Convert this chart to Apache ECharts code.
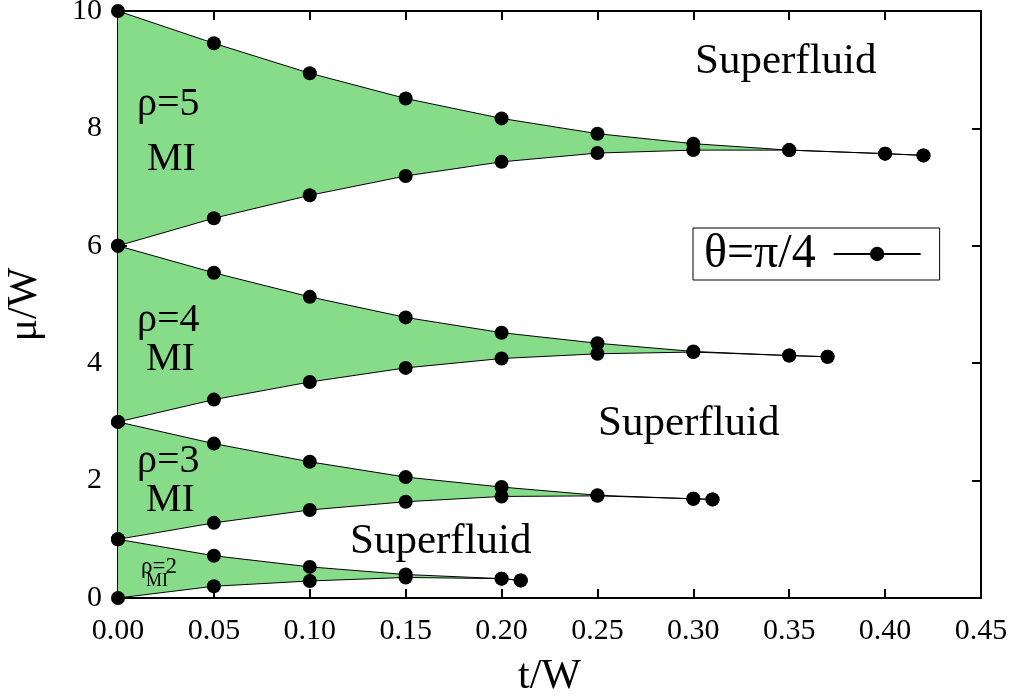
<!DOCTYPE html>
<html>
<head>
<meta charset="utf-8">
<title>Phase diagram</title>
<script src="https://cdn.jsdelivr.net/npm/echarts@6/dist/echarts.min.js"></script>
<style>
  html, body { margin: 0; padding: 0; background: #fff; }
  #chart { width: 1016px; height: 700px; }
</style>
</head>
<body>
<div id="chart"></div>
<script>
// t/W positions of each lobe and the upper / lower boundary of the MI region
var t5 = [0, 0.05, 0.10, 0.15, 0.20, 0.25, 0.30, 0.35, 0.40, 0.42];
var upper5 = [10, 9.45, 8.94, 8.51, 8.17, 7.91, 7.74, 7.63, 7.57, 7.54];
var lower5 = [6, 6.47, 6.86, 7.19, 7.43, 7.58, 7.63, 7.63, 7.57, 7.54];

var t4 = [0, 0.05, 0.10, 0.15, 0.20, 0.25, 0.30, 0.35, 0.37];
var upper4 = [6, 5.54, 5.13, 4.78, 4.52, 4.34, 4.20, 4.13, 4.11];
var lower4 = [3, 3.38, 3.68, 3.92, 4.08, 4.16, 4.19, 4.13, 4.11];

var t3 = [0, 0.05, 0.10, 0.15, 0.20, 0.25, 0.30, 0.31];
var upper3 = [3, 2.63, 2.32, 2.06, 1.89, 1.75, 1.69, 1.68];
var lower3 = [1, 1.28, 1.50, 1.64, 1.73, 1.74, 1.69, 1.68];

var t2 = [0, 0.05, 0.10, 0.15, 0.20, 0.21];
var upper2 = [1, 0.72, 0.53, 0.40, 0.33, 0.30];
var lower2 = [0, 0.20, 0.29, 0.35, 0.33, 0.30];

var xTicks = [0, 0.05, 0.10, 0.15, 0.20, 0.25, 0.30, 0.35, 0.40, 0.45];
var yTicks = [0, 2, 4, 6, 8, 10];

var seriesName = 'θ=π/4';
var fillColor = '#86dc88';
var font = '"Liberation Serif", "DejaVu Serif", serif';

var lobes = [
	{ t: t5, up: upper5, lo: lower5 },
	{ t: t4, up: upper4, lo: lower4 },
	{ t: t3, up: upper3, lo: lower3 },
	{ t: t2, up: upper2, lo: lower2 }
];

function pairs(xs, ys) {
	return xs.map(function(x, i) { return [x, ys[i]]; });
}

function label(text, x, y, size) {
	return {
		type: 'text',
		left: x,
		top: y,
		z: 100,
		style: { text: text, font: size + 'px ' + font, fill: '#000' }
	};
}

var myChart = echarts.init(document.getElementById('chart'));

var series = [];

// green MI regions, one polygon per lobe
series.push({
	type: 'custom',
	name: 'fill',
	z: 1,
	silent: true,
	data: lobes.map(function(l, i) { return [0, 0, i]; }),
	renderItem: function(params, api) {
		var l = lobes[api.value(2)];
		var pts = [];
		for (var i = 0; i < l.t.length; i++) pts.push(api.coord([l.t[i], l.up[i]]));
		for (var j = l.t.length - 1; j >= 0; j--) pts.push(api.coord([l.t[j], l.lo[j]]));
		return {
			type: 'polygon',
			shape: { points: pts },
			style: { fill: fillColor, stroke: null }
		};
	}
});

lobes.forEach(function(l) {
	[l.up, l.lo].forEach(function(ys) {
		series.push({
			type: 'line',
			name: seriesName,
			z: 3,
			data: pairs(l.t, ys),
			symbol: 'circle',
			symbolSize: 14,
			showAllSymbol: true,
			itemStyle: { color: '#000' },
			lineStyle: { color: '#000', width: 1 },
			animation: false
		});
	});
});

var axisBase = {
	axisLine: { show: true, onZero: false, lineStyle: { color: '#000', width: 2 } },
	axisTick: { show: true, inside: true, length: 9, lineStyle: { color: '#000', width: 2 } },
	splitLine: { show: false }
};

option = {
	animation: false,
	backgroundColor: '#fff',
	grid: {
		left: 118,
		right: 35,
		top: 11,
		bottom: 102,
		outerBoundsMode: 'none',
		show: true,
		borderColor: '#000',
		borderWidth: 2
	},
	legend: {
		data: [seriesName],
		left: 693,
		top: 228,
		align: 'right',
		orient: 'horizontal',
		itemWidth: 87,
		itemHeight: 18,
		padding: [2, 18, 2, 11],
		borderColor: '#000',
		borderWidth: 1,
		borderRadius: 0,
		selectedMode: false,
		textStyle: { fontFamily: font, fontSize: 48, lineHeight: 36, color: '#000', padding: [0, 13, 0, 0] }
	},
	xAxis: [
		Object.assign({
			type: 'value',
			min: 0,
			max: 0.45,
			interval: 0.05,
			position: 'bottom',
			name: 't/W',
			nameLocation: 'middle',
			nameGap: 58,
			nameTextStyle: { fontFamily: font, fontSize: 42, color: '#000' },
			axisLabel: {
				margin: 18,
				fontFamily: font,
				fontSize: 30,
				color: '#000',
				formatter: function(v) { return v.toFixed(2); },
				customValues: xTicks
			}
		}, axisBase),
		Object.assign({
			type: 'value',
			min: 0,
			max: 0.45,
			interval: 0.05,
			position: 'top',
			axisLabel: { show: false }
		}, axisBase)
	],
	yAxis: [
		Object.assign({
			type: 'value',
			min: 0,
			max: 10,
			interval: 2,
			position: 'left',
			name: 'μ/W',
			nameLocation: 'middle',
			nameGap: 72,
			nameRotate: 90,
			nameTextStyle: { fontFamily: font, fontSize: 42, color: '#000' },
			axisLabel: {
				margin: 16,
				fontFamily: font,
				fontSize: 30,
				color: '#000',
				customValues: yTicks
			}
		}, axisBase),
		Object.assign({
			type: 'value',
			min: 0,
			max: 10,
			interval: 2,
			position: 'right',
			axisLabel: { show: false }
		}, axisBase)
	],
	graphic: [
		label('Superfluid', 695, 40, 43),
		label('Superfluid', 598, 402, 43),
		label('Superfluid', 350, 520, 43),
		label('ρ=5', 137, 84, 40),
		label('MI', 147, 139, 40),
		label('ρ=4', 137, 300, 40),
		label('MI', 146, 339, 40),
		label('ρ=3', 137, 441, 40),
		label('MI', 146, 480, 40),
		label('ρ=2', 141, 555, 23),
		label('MI', 146, 572, 18)
	],
	series: series
};

myChart.setOption(option);
</script>
</body>
</html>
